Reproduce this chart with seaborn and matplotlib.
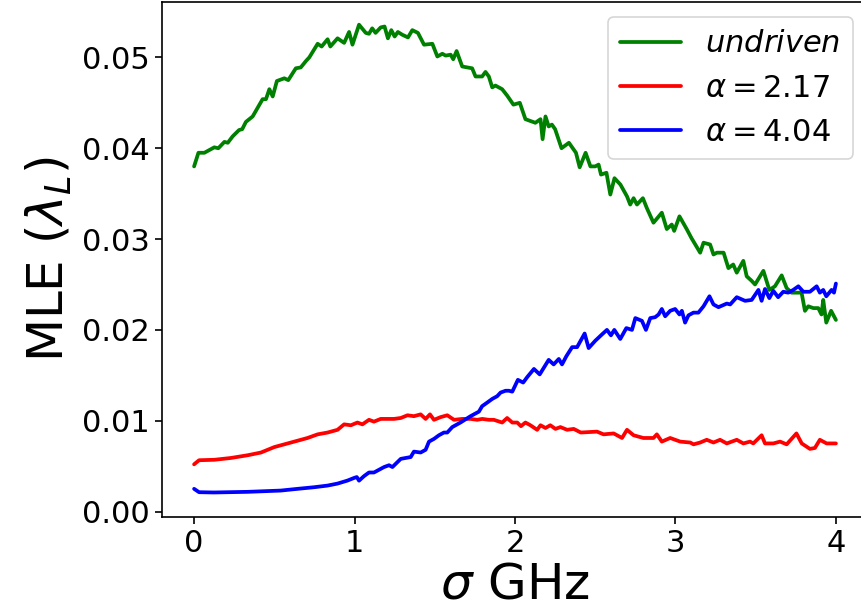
import matplotlib
matplotlib.use("Agg")
import matplotlib.pyplot as plt
import seaborn as sns
import pandas as pd

# ---- data ----
x_undriven = [0.000, 0.027, 0.064, 0.126, 0.151, 0.189, 0.210, 0.240, 0.280, 0.300,
              0.323, 0.365, 0.427, 0.448, 0.469, 0.490, 0.516, 0.562, 0.587, 0.634,
              0.665, 0.697, 0.718, 0.770, 0.795, 0.832, 0.849, 0.894, 0.935, 0.966,
              0.987, 1.028, 1.070, 1.090, 1.110, 1.131, 1.163, 1.187, 1.208, 1.229,
              1.250, 1.270, 1.297, 1.333, 1.360, 1.395, 1.433, 1.485, 1.516, 1.547,
              1.568, 1.599, 1.615, 1.636, 1.671, 1.702, 1.733, 1.754, 1.795, 1.816,
              1.837, 1.858, 1.878, 1.899, 1.920, 1.951, 1.990, 2.030, 2.065, 2.096,
              2.127, 2.159, 2.172, 2.190, 2.210, 2.230, 2.250, 2.290, 2.336, 2.380,
              2.403, 2.440, 2.470, 2.500, 2.521, 2.536, 2.570, 2.594, 2.620, 2.657,
              2.698, 2.718, 2.739, 2.760, 2.797, 2.822, 2.863, 2.915, 2.946, 2.977,
              2.992, 3.025, 3.070, 3.100, 3.154, 3.175, 3.216, 3.237, 3.258, 3.300,
              3.330, 3.360, 3.382, 3.423, 3.444, 3.475, 3.496, 3.548, 3.585, 3.620,
              3.662, 3.693, 3.724, 3.750, 3.786, 3.807, 3.828, 3.859, 3.890, 3.910,
              3.921, 3.940, 3.970, 4.000]
y_undriven = [0.0380, 0.0395, 0.0395, 0.0401, 0.0400, 0.0407, 0.0406, 0.0413, 0.0420, 0.0421,
              0.0429, 0.0435, 0.0454, 0.0454, 0.0465, 0.0457, 0.0474, 0.0477, 0.0475, 0.0488,
              0.0489, 0.0496, 0.0500, 0.0515, 0.0512, 0.0520, 0.0512, 0.0521, 0.0516, 0.0528,
              0.0514, 0.0536, 0.0527, 0.0526, 0.0532, 0.0527, 0.0533, 0.0534, 0.0521, 0.0530,
              0.0523, 0.0528, 0.0525, 0.0522, 0.0530, 0.0527, 0.0514, 0.0515, 0.0501, 0.0504,
              0.0502, 0.0503, 0.0498, 0.0507, 0.0490, 0.0489, 0.0488, 0.0479, 0.0479, 0.0484,
              0.0479, 0.0467, 0.0469, 0.0467, 0.0465, 0.0458, 0.0448, 0.0450, 0.0432, 0.0430,
              0.0428, 0.0432, 0.0410, 0.0435, 0.0424, 0.0426, 0.0421, 0.0400, 0.0406, 0.0395,
              0.0379, 0.0395, 0.0380, 0.0380, 0.0382, 0.0371, 0.0373, 0.0349, 0.0367, 0.0360,
              0.0347, 0.0338, 0.0345, 0.0338, 0.0345, 0.0334, 0.0318, 0.0329, 0.0311, 0.0316,
              0.0309, 0.0325, 0.0311, 0.0301, 0.0285, 0.0296, 0.0294, 0.0283, 0.0285, 0.0285,
              0.0268, 0.0272, 0.0263, 0.0276, 0.0259, 0.0254, 0.0250, 0.0265, 0.0244, 0.0248,
              0.0260, 0.0246, 0.0241, 0.0241, 0.0241, 0.0221, 0.0226, 0.0224, 0.0224, 0.0217,
              0.0233, 0.0208, 0.0221, 0.0211]

x_a217 = [0.000, 0.031, 0.127, 0.230, 0.334, 0.417, 0.500, 0.583, 0.645, 0.707,
          0.770, 0.832, 0.894, 0.935, 0.977, 1.018, 1.049, 1.090, 1.121, 1.163,
          1.204, 1.246, 1.288, 1.330, 1.370, 1.412, 1.443, 1.470, 1.495, 1.537,
          1.578, 1.620, 1.671, 1.723, 1.765, 1.796, 1.837, 1.868, 1.920, 1.951,
          1.983, 2.014, 2.037, 2.065, 2.096, 2.138, 2.159, 2.190, 2.220, 2.252,
          2.283, 2.325, 2.366, 2.410, 2.511, 2.552, 2.615, 2.667, 2.698, 2.739,
          2.800, 2.863, 2.884, 2.915, 2.967, 3.030, 3.092, 3.113, 3.154, 3.195,
          3.237, 3.278, 3.320, 3.382, 3.423, 3.465, 3.485, 3.537, 3.558, 3.610,
          3.652, 3.693, 3.754, 3.787, 3.838, 3.869, 3.900, 3.942, 4.000]
y_a217 = [0.0052, 0.00565, 0.0057, 0.0059, 0.0062, 0.0065, 0.0071, 0.0075, 0.0078, 0.0081,
          0.0085, 0.0087, 0.0090, 0.0096, 0.0095, 0.0098, 0.0096, 0.0101, 0.0099, 0.0102,
          0.0102, 0.0102, 0.0103, 0.0106, 0.0105, 0.0107, 0.0102, 0.0107, 0.0101, 0.0104,
          0.0106, 0.0101, 0.0102, 0.0102, 0.0101, 0.0102, 0.0101, 0.0101, 0.0098, 0.0103,
          0.0098, 0.0098, 0.0094, 0.0098, 0.0095, 0.0090, 0.0095, 0.0092, 0.0095, 0.0091,
          0.0093, 0.0090, 0.0091, 0.0087, 0.0088, 0.0085, 0.0086, 0.0081, 0.0090, 0.0084,
          0.0081, 0.0081, 0.0085, 0.0077, 0.0081, 0.0077, 0.0076, 0.0074, 0.0076, 0.0079,
          0.0076, 0.0079, 0.0075, 0.0079, 0.0075, 0.0077, 0.0075, 0.0084, 0.0075, 0.0075,
          0.0077, 0.0074, 0.0086, 0.0075, 0.0069, 0.0070, 0.0079, 0.0075, 0.0075]

x_a404 = [0.000, 0.031, 0.124, 0.334, 0.540, 0.645, 0.749, 0.832, 0.894, 0.956,
          0.997, 1.014, 1.028, 1.059, 1.090, 1.121, 1.163, 1.184, 1.215, 1.236,
          1.288, 1.350, 1.370, 1.412, 1.443, 1.464, 1.495, 1.526, 1.557, 1.578,
          1.609, 1.660, 1.723, 1.775, 1.795, 1.827, 1.858, 1.889, 1.910, 1.941,
          1.962, 1.983, 2.018, 2.051, 2.076, 2.118, 2.154, 2.210, 2.241, 2.273,
          2.293, 2.320, 2.356, 2.387, 2.434, 2.459, 2.500, 2.542, 2.573, 2.598,
          2.619, 2.656, 2.694, 2.729, 2.750, 2.791, 2.816, 2.843, 2.874, 2.895,
          2.915, 2.936, 2.967, 2.998, 3.025, 3.040, 3.060, 3.081, 3.112, 3.143,
          3.175, 3.212, 3.237, 3.268, 3.320, 3.341, 3.382, 3.434, 3.475, 3.517,
          3.537, 3.558, 3.585, 3.610, 3.640, 3.672, 3.703, 3.734, 3.766, 3.797,
          3.838, 3.880, 3.900, 3.921, 3.940, 3.973, 3.988, 4.000]
y_a404 = [0.0025, 0.00213, 0.0021, 0.00217, 0.00231, 0.0025, 0.00268, 0.00286, 0.00308, 0.00341,
          0.0037, 0.0038, 0.0034, 0.0039, 0.0043, 0.0043, 0.0047, 0.0049, 0.0051, 0.0049,
          0.0058, 0.0060, 0.0066, 0.0065, 0.0068, 0.0077, 0.0080, 0.0084, 0.0087, 0.0087,
          0.0093, 0.0098, 0.0105, 0.0110, 0.0116, 0.0120, 0.0124, 0.0127, 0.0131, 0.0133,
          0.0133, 0.0132, 0.0145, 0.0142, 0.0148, 0.0157, 0.0151, 0.0167, 0.0162, 0.0168,
          0.0162, 0.0171, 0.0181, 0.0181, 0.0196, 0.0180, 0.0188, 0.0195, 0.0200, 0.0194,
          0.0200, 0.0190, 0.0202, 0.0200, 0.0213, 0.0210, 0.0200, 0.0213, 0.0214, 0.0217,
          0.0223, 0.0215, 0.0221, 0.0223, 0.0217, 0.0221, 0.0208, 0.0216, 0.0219, 0.0219,
          0.0226, 0.0237, 0.0228, 0.0225, 0.0229, 0.0228, 0.0236, 0.0232, 0.0233, 0.0244,
          0.0232, 0.0245, 0.0235, 0.0243, 0.0236, 0.0242, 0.0241, 0.0244, 0.0248, 0.0242,
          0.0242, 0.0248, 0.0241, 0.0244, 0.0237, 0.0244, 0.0241, 0.0251]

labels = [r'$undriven$', r'$\alpha = 2.17$', r'$\alpha = 4.04$']
colors = ['green', 'red', 'blue']
x_ticks = [0, 1, 2, 3, 4]
y_ticks = [0.00, 0.01, 0.02, 0.03, 0.04, 0.05]

series = [(x_undriven, y_undriven), (x_a217, y_a217), (x_a404, y_a404)]

sns.set_style("white")
plt.rcParams['font.family'] = ['DejaVu Sans']
plt.rcParams['mathtext.fontset'] = 'dejavusans'
plt.rcParams['text.color'] = 'black'
plt.rcParams['axes.labelcolor'] = 'black'
plt.rcParams['xtick.color'] = 'black'
plt.rcParams['ytick.color'] = 'black'
plt.rcParams['axes.edgecolor'] = 'black'

fig = plt.figure(figsize=(8.61, 6.15), dpi=100)
ax = fig.add_axes([162 / 861, (615 - 517) / 615, (868 - 162) / 861, (517 - 2) / 615])

for (xs, ys), lab, col in zip(series, labels, colors):
    df = pd.DataFrame({'x': xs, 'y': ys})
    sns.lineplot(data=df, x='x', y='y', ax=ax, color=col, label=lab,
                 linewidth=2.7, estimator=None, sort=False)

ax.set_xlim(-0.2, 4.2)
ax.set_ylim(-0.0006, 0.0561)
ax.set_xticks(x_ticks)
ax.set_xticklabels([str(t) for t in x_ticks])
ax.set_yticks(y_ticks)
ax.set_yticklabels([f'{t:.2f}' for t in y_ticks])
ax.tick_params(axis='both', which='major', labelsize=22, length=5, width=1.2,
               direction='out', color='black', labelcolor='black', left=True, bottom=True)
for sp in ax.spines.values():
    sp.set_visible(True)
    sp.set_color('black')
    sp.set_linewidth(1.2)

ax.set_xlabel(r'$\sigma$ GHz', fontsize=36, labelpad=2, color='black')
ax.set_ylabel(r'MLE ($\lambda_L$)', fontsize=36, labelpad=6, color='black')

leg = ax.legend(loc='upper right', fontsize=22, frameon=True, fancybox=True,
                framealpha=0.8, edgecolor='#cccccc', handlelength=2.0)
leg.get_frame().set_linewidth(1.2)
for t in leg.get_texts():
    t.set_color('black')

fig.savefig('out.png', dpi=100)
